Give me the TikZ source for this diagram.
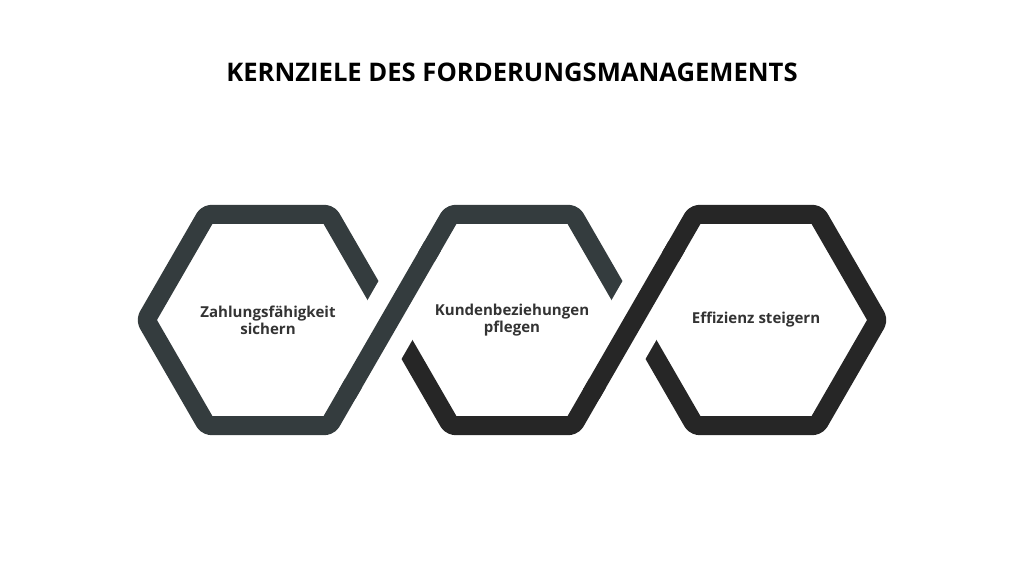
\documentclass[tikz,border=0pt]{standalone}
\usepackage{fontspec}
\setmainfont{Open Sans}
\usetikzlibrary{calc}
\definecolor{slate}{HTML}{343C3E}
\definecolor{coal}{HTML}{262626}
\definecolor{labelgray}{HTML}{333333}
\tikzset{
    hex band/.style={line width=14.25pt, line join=round, rounded corners=3pt},
    hex cut/.style={line width=44pt, white},
    goal label/.style={align=center, text=labelgray, font=\fontsize{11.3}{13}\selectfont\bfseries},
}

\begin{document}
\begin{tikzpicture}[x=0.75pt, y=-0.75pt]
        \useasboundingbox (0,0) rectangle (1024,576);
        %draw title
        \node[font=\fontsize{19.2}{23}\selectfont\bfseries] (title) at (512,72) {KERNZIELE DES FORDERUNGSMANAGEMENTS};
        %hexagon centres and corners
        \foreach \h/\x in {h1/268, h2/512, h3/756} {
            \coordinate (\h) at (\x,320);
            \coordinate (\h-l) at ($(\h)+(-122,0)$);
            \coordinate (\h-tl) at ($(\h)+(-61,-105.66)$);
            \coordinate (\h-tr) at ($(\h)+(61,-105.66)$);
            \coordinate (\h-r) at ($(\h)+(122,0)$);
            \coordinate (\h-br) at ($(\h)+(61,105.66)$);
            \coordinate (\h-bl) at ($(\h)+(-61,105.66)$);
        }
        %draw hexagons
        \draw[hex band, slate] ($(h1-tl)!0.5!(h1-tr)$) -- (h1-tr) -- (h1-r) -- (h1-br) -- (h1-bl) -- (h1-l) -- (h1-tl) -- cycle;
        \draw[hex band, slate] (h2-l) -- (h2-tl) -- (h2-tr) -- (h2-r);
        \draw[hex band, coal] (h2-r) -- (h2-br) -- (h2-bl) -- (h2-l);
        \draw[hex band, coal] ($(h3-tl)!0.5!(h3-tr)$) -- (h3-tr) -- (h3-r) -- (h3-br) -- (h3-bl) -- (h3-l) -- (h3-tl) -- cycle;
        %cut the crossings
        \draw[hex cut] ($(h1-r)!0.6!(h1-br)$) -- ($(h1-r)!0.6!(h2-tl)$);
        \draw[hex band, slate] ($(h1-r)!0.7!(h1-br)$) -- ($(h1-r)!0.7!(h2-tl)$);
        \draw[hex cut] ($(h2-r)!0.6!(h2-br)$) -- ($(h2-r)!0.6!(h3-tl)$);
        \draw[hex band, coal] ($(h2-r)!0.7!(h2-br)$) -- ($(h2-r)!0.7!(h3-tl)$);
        %draw labels
        \node[goal label] (goal1) at (h1) {Zahlungsfähigkeit\\sichern};
        \node[goal label] (goal2) at (h2) {Kundenbeziehungen\\pflegen};
        \node[goal label] (goal3) at (h3) {Effizienz steigern};
    \end{tikzpicture}
\end{document}
